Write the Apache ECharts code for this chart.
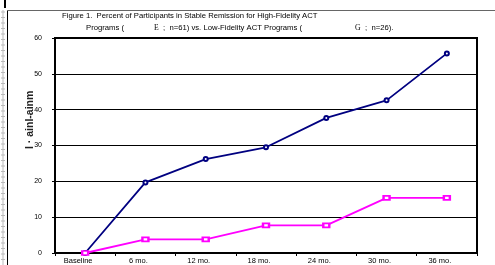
<!DOCTYPE html>
<html>
<head>
<meta charset="utf-8">
<script src="https://cdn.jsdelivr.net/npm/echarts@6/dist/echarts.min.js"></script>
<style>
  html, body { margin: 0; padding: 0; background: #fff; }
  #chart { width: 495px; height: 265px; }
</style>
</head>
<body>
<div id="chart"></div>
<script>
var categories = ['Baseline', '6 mo.', '12 mo.', '18 mo.', '24 mo.', '30 mo.', '36 mo.'];
var highFidelity = [0, 19.7, 26.2, 29.5, 37.7, 42.6, 55.7];
var lowFidelity = [0, 3.8, 3.8, 7.7, 7.7, 15.4, 15.4];
var yTicks = [0, 10, 20, 30, 40, 50, 60];

var chart = echarts.init(document.getElementById('chart'));
var font = 'Liberation Sans, Arial, sans-serif';
var serif = 'Liberation Serif, Times New Roman, serif';

// left ruler decoration
var ruler = [];
for (var y = 12; y < 265; y += 5.5) {
  ruler.push({ type: 'line', shape: { x1: 1, y1: y, x2: 5, y2: y }, style: { stroke: '#bbb', lineWidth: 1 } });
}

var option = {
  animation: false,
  grid: { left: 55, right: 18, top: 38, bottom: 12, show: true, borderColor: '#000', borderWidth: 2 },
  graphic: ruler.concat([
    { type: 'line', shape: { x1: 3, y1: 10, x2: 3, y2: 265 }, style: { stroke: '#bbb', lineWidth: 1 } },
    { type: 'rect', shape: { x: 4, y: 0, width: 2, height: 8 }, style: { fill: '#000' } },
    { type: 'line', shape: { x1: 7.5, y1: 10, x2: 7.5, y2: 265 }, style: { stroke: '#000', lineWidth: 1 } },
    { type: 'line', shape: { x1: 7, y1: 10.5, x2: 495, y2: 10.5 }, style: { stroke: '#666', lineWidth: 1 } },
    { type: 'text', left: 62, top: 12, style: { text: 'Figure 1.  Percent of Participants in Stable Remission for High-Fidelity ACT', font: '7.7px ' + font, fill: '#000' } },
    { type: 'text', left: 86, top: 24, style: { text: 'Programs (', font: '7.7px ' + font, fill: '#000' } },
    { type: 'text', left: 154, top: 24, style: { text: 'E', font: '7.7px ' + serif, fill: '#000' } },
    { type: 'text', left: 163, top: 24, style: { text: ';  n=61) vs. Low-Fidelity ACT Programs (', font: '7.7px ' + font, fill: '#000' } },
    { type: 'text', left: 355, top: 24, style: { text: 'G', font: '7.7px ' + serif, fill: '#000' } },
    { type: 'text', left: 365, top: 24, style: { text: ';  n=26).', font: '7.7px ' + font, fill: '#000' } },
    { type: 'text', x: 25, y: 149, rotation: Math.PI / 2, style: { text: 'I · ainI-ainm', font: 'bold 10.5px ' + font, fill: '#222' } }
  ]),
  xAxis: {
    type: 'category',
    data: categories,
    boundaryGap: true,
    axisLine: { lineStyle: { color: '#000', width: 2 } },
    axisTick: { show: true, length: 3, lineStyle: { color: '#000' } },
    axisLabel: { fontSize: 7.5, fontFamily: font, color: '#000', margin: 4, padding: [0, 14, 0, 0] }
  },
  yAxis: {
    type: 'value',
    min: yTicks[0],
    max: yTicks[yTicks.length - 1],
    interval: 10,
    axisLine: { show: true, lineStyle: { color: '#000', width: 2 } },
    axisTick: { show: true, length: 3, lineStyle: { color: '#000' } },
    axisLabel: { fontSize: 7, fontFamily: font, color: '#000', margin: 13 },
    splitLine: { lineStyle: { color: '#000', width: 1 } }
  },
  series: [
    {
      name: 'High-Fidelity',
      type: 'line',
      data: highFidelity,
      symbol: 'emptyCircle',
      symbolSize: 4,
      itemStyle: { color: '#000080', borderWidth: 1.2 },
      lineStyle: { color: '#000080', width: 1.8 }
    },
    {
      name: 'Low-Fidelity',
      type: 'line',
      data: lowFidelity,
      symbol: 'emptyRect',
      symbolSize: [6, 4],
      itemStyle: { color: '#ff00ff', borderWidth: 1.2 },
      lineStyle: { color: '#ff00ff', width: 1.8 }
    }
  ]
};

chart.setOption(option);
</script>
</body>
</html>
